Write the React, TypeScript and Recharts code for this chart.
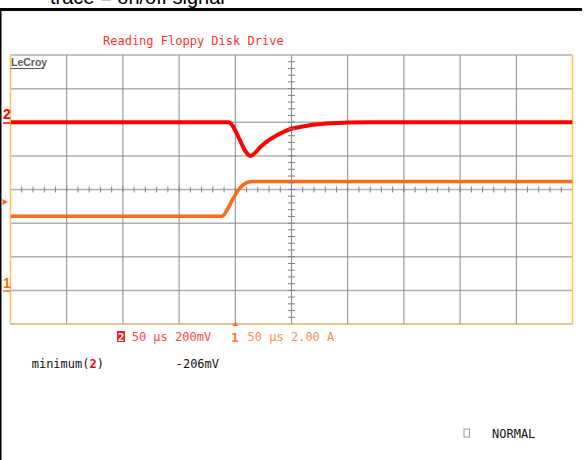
import React from "react";
import {
  ComposedChart,
  Line,
  XAxis,
  YAxis,
  CartesianGrid,
  ReferenceLine,
  ReferenceDot,
  Scatter,
} from "recharts";

const W = 587;
const H = 460;

// Time base: 50 µs/div, 10 divisions
const timeGridUs = [0, 50, 100, 150, 200, 250, 300, 350, 400, 450, 500];
// Vertical graticule in divisions
const divGrid = [-4, -3, -2, -1, 0, 1, 2, 3, 4];

// Minor ticks on the centre axes
const hMinorTicksUs = [
  10, 20, 30, 40, 50, 60, 70, 80, 90, 100, 110, 120, 130, 140, 150, 160, 170,
  180, 190, 200, 210, 220, 230, 240, 250, 260, 270, 280, 290, 300, 310, 320,
  330, 340, 350, 360, 370, 380, 390, 400, 410, 420, 430, 440, 450, 460, 470,
  480, 490,
];
const vMinorTicksDiv = [
  -3.8, -3.6, -3.4, -3.2, -3, -2.8, -2.6, -2.4, -2.2, -2, -1.8, -1.6, -1.4,
  -1.2, -1, -0.8, -0.6, -0.4, -0.2, 0, 0.2, 0.4, 0.6, 0.8, 1, 1.2, 1.4, 1.6,
  1.8, 2, 2.2, 2.4, 2.6, 2.8, 3, 3.2, 3.4, 3.6, 3.8,
];

// Channel 2 (red): voltage in mV, 200 mV/div, ground at +2 div
const ch2TimeUs = [0, 100, 194, 197, 200, 204, 208, 211, 213, 215, 218, 222, 228, 237, 249, 258, 269, 281, 300, 320, 400, 500];
const ch2mV = [0, 0, 0, -15, -50, -105, -160, -190, -200, -196, -180, -150, -115, -78, -40, -28, -15, -7, -2, 0, 0, 0];

// Channel 1 (orange): current in A, 2 A/div, ground at -3 div
const ch1TimeUs = [0, 100, 188, 192, 198, 204, 210, 216, 300, 400, 500];
const ch1A = [4.41, 4.41, 4.41, 4.7, 5.45, 6.08, 6.4, 6.47, 6.47, 6.47, 6.47];

const triggerUs = 200;

const ch2Data = ch2TimeUs.map((t, i) => ({ t, v: ch2mV[i] }));
const ch1Data = ch1TimeUs.map((t, i) => ({ t, v: ch1A[i] }));
const hTickData = hMinorTicksUs.map((t) => ({ t, d: 0 }));
const vTickData = vMinorTicksDiv.map((d) => ({ t: 250, d }));

const MONO = "'DejaVu Sans Mono', monospace";
const SANS = "'Liberation Sans', Arial, sans-serif";

const HTick = (p: any) => (
  <line x1={p.cx} x2={p.cx} y1={p.cy - 3} y2={p.cy + 3} stroke="#808080" strokeWidth={1} />
);
const VTick = (p: any) => (
  <line x1={p.cx - 3.5} x2={p.cx + 3.5} y1={p.cy} y2={p.cy} stroke="#808080" strokeWidth={1} />
);
const TrigMark = (p: any) => (
  <polygon
    points={`${p.cx - 3},${p.cy + 2} ${p.cx + 3},${p.cy + 2} ${p.cx},${p.cy - 2}`}
    fill="#ff6a10"
  />
);

export default function App() {
  return (
    <div style={{ position: "absolute", left: 0, top: 0, width: W, height: H, background: "#fff" }}>
      <ComposedChart
        width={W}
        height={H}
        margin={{ left: 10.5, right: 14.5, top: 55, bottom: 136 }}
      >
        <XAxis xAxisId="t" type="number" dataKey="t" domain={[0, 500]} hide allowDataOverflow />
        <YAxis yAxisId="div" type="number" dataKey="d" domain={[-4, 4]} hide allowDataOverflow />
        <YAxis yAxisId="ch2" type="number" domain={[-1200, 400]} hide allowDataOverflow />
        <YAxis yAxisId="ch1" type="number" domain={[-2, 14]} hide allowDataOverflow />

        <CartesianGrid
          xAxisId="t"
          yAxisId="div"
          vertical={false}
          horizontalValues={divGrid}
          stroke="#b0b0b0"
          strokeWidth={1.5}
        />
        <CartesianGrid
          xAxisId="t"
          yAxisId="div"
          horizontal={false}
          verticalValues={timeGridUs}
          stroke="#888888"
          strokeWidth={1}
        />
        <ReferenceLine xAxisId="t" yAxisId="div" y={-4} stroke="#f2c27e" strokeWidth={1.5} />
        <ReferenceLine xAxisId="t" yAxisId="div" x={0} stroke="#ffc450" strokeWidth={1.5} />
        <ReferenceLine xAxisId="t" yAxisId="div" x={500} stroke="#ffc450" strokeWidth={1.5} />

        <Scatter xAxisId="t" yAxisId="div" data={hTickData} shape={HTick} isAnimationActive={false} />
        <Scatter xAxisId="t" yAxisId="div" data={vTickData} shape={VTick} isAnimationActive={false} />

        <Line
          xAxisId="t"
          yAxisId="ch1"
          data={ch1Data}
          dataKey="v"
          type="monotone"
          stroke="#ff6a14"
          strokeWidth={3.5}
          dot={false}
          isAnimationActive={false}
        />
        <Line
          xAxisId="t"
          yAxisId="ch2"
          data={ch2Data}
          dataKey="v"
          type="monotone"
          stroke="#ff0000"
          strokeWidth={4}
          dot={false}
          isAnimationActive={false}
        />
        <ReferenceDot xAxisId="t" yAxisId="div" x={triggerUs} y={-4} shape={TrigMark} ifOverflow="visible" />
      </ComposedChart>

      <svg
        width={W}
        height={H}
        style={{ position: "absolute", left: 0, top: 0, pointerEvents: "none" }}
      >
        <text x={50} y={4} fontFamily={SANS} fontSize={20} fill="#000">
          trace = on/off signal
        </text>
        <rect x={0} y={8} width={582} height={3} fill="#000" />
        <rect x={0} y={8} width={1.5} height={452} fill="#000" />

        <text x={103} y={45} fontFamily={MONO} fontSize={12} fill="#ff3030">
          Reading Floppy Disk Drive
        </text>
        <text x={11} y={66} fontFamily={SANS} fontSize={10.5} fontWeight="bold" fill="#5e5e5e">
          LeCroy
        </text>
        <line x1={10.5} x2={44} y1={68.5} y2={68.5} stroke="#5e5e5e" strokeWidth={1} />

        <text x={3} y={119} fontFamily={SANS} fontSize={14} fontWeight="bold" fill="#ff0000">
          2
        </text>
        <line x1={3} x2={10} y1={123} y2={123} stroke="#ff0000" strokeWidth={1.5} />
        <polygon points="2.5,199 8,202 2.5,205" fill="#ff6a10" />
        <text x={3} y={288} fontFamily={SANS} fontSize={14} fontWeight="bold" fill="#ff6a10">
          1
        </text>
        <line x1={3} x2={10} y1={291} y2={291} stroke="#ff6a10" strokeWidth={1.5} />

        <rect x={117} y={331} width={8} height={11} fill="#ff1a1a" />
        <text x={121} y={340.5} textAnchor="middle" fontFamily={MONO} fontSize={11} fontWeight="bold" fill="#fff">
          2
        </text>
        <text x={131.7} y={341} fontFamily={MONO} fontSize={12} fill="#ff4a4a">
          50 μs 200mV
        </text>
        <text x={235} y={341.5} textAnchor="middle" fontFamily={MONO} fontSize={13} fontWeight="bold" fill="#ff7a30">
          1
        </text>
        <text x={247.6} y={341} fontFamily={MONO} fontSize={12} fill="#ff8f55">
          50 μs 2.00 A
        </text>

        <text x={31.7} y={368} fontFamily={MONO} fontSize={12} fill="#111">
          minimum(
          <tspan fill="#ff0000" fontWeight="bold">2</tspan>)
        </text>
        <text x={175.7} y={368} fontFamily={MONO} fontSize={12} fill="#111">
          -206mV
        </text>

        <rect x={464} y={429} width={5.5} height={8} fill="none" stroke="#9a9a9a" strokeWidth={1} />
        <text x={492} y={438} fontFamily={MONO} fontSize={12} fill="#111">
          NORMAL
        </text>
      </svg>
    </div>
  );
}
